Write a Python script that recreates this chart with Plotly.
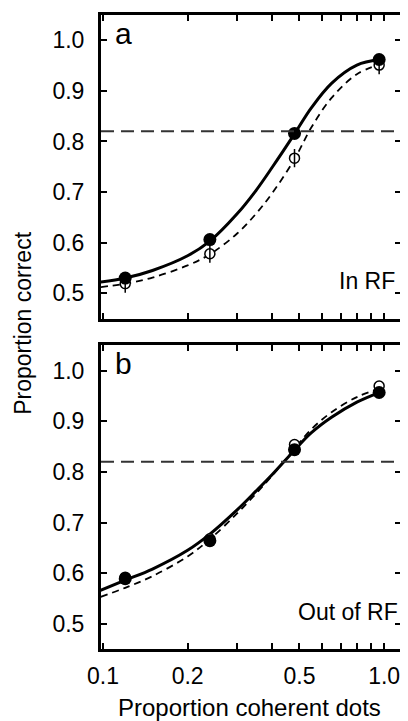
import plotly.graph_objects as go
from plotly.subplots import make_subplots

# ---- data ----
coherence = [0.12, 0.24, 0.48, 0.96]
in_rf_filled = [0.530, 0.606, 0.816, 0.962]
in_rf_open = [0.519, 0.578, 0.767, 0.951]
out_rf_filled = [0.589, 0.664, 0.844, 0.957]
out_rf_open = [0.592, 0.668, 0.854, 0.970]

curve_x = [0.098, 0.12, 0.15, 0.2, 0.24, 0.3, 0.35, 0.4, 0.48, 0.55, 0.65, 0.8, 0.96]
in_rf_solid = [0.522, 0.530, 0.545, 0.574, 0.603, 0.657, 0.703, 0.749, 0.815, 0.866, 0.915, 0.951, 0.962]
in_rf_dashed = [0.512, 0.519, 0.531, 0.555, 0.577, 0.618, 0.657, 0.698, 0.765, 0.827, 0.886, 0.933, 0.952]
out_rf_solid = [0.566, 0.586, 0.608, 0.645, 0.677, 0.725, 0.762, 0.795, 0.843, 0.877, 0.908, 0.938, 0.957]
out_rf_dashed = [0.553, 0.571, 0.594, 0.633, 0.667, 0.718, 0.757, 0.793, 0.846, 0.884, 0.918, 0.948, 0.964]

threshold = 0.82
y_ticks = [0.5, 0.6, 0.7, 0.8, 0.9, 1.0]
y_tick_labels = ["0.5", "0.6", "0.7", "0.8", "0.9", "1.0"]
x_ticks = [0.1, 0.2, 0.3, 0.4, 0.5, 0.6, 0.7, 0.8, 0.9, 1.0]
x_tick_labels = ["0.1", "0.2", "", "", "0.5", "", "", "", "", "1.0"]

FONT = "Liberation Sans, Arial, Helvetica, sans-serif"

fig = make_subplots(rows=2, cols=1, vertical_spacing=0.0425)

panels = [
    (1, in_rf_solid, in_rf_dashed, in_rf_filled, in_rf_open),
    (2, out_rf_solid, out_rf_dashed, out_rf_filled, out_rf_open),
]
for row, solid, dashed, filled, opened in panels:
    fig.add_trace(go.Scatter(x=curve_x, y=dashed, mode="lines", line_shape="spline",
                             line=dict(color="black", width=1.8, dash="7px,5px"),
                             showlegend=False, hoverinfo="skip"), row=row, col=1)
    fig.add_trace(go.Scatter(x=curve_x, y=solid, mode="lines", line_shape="spline",
                             line=dict(color="black", width=3),
                             showlegend=False, hoverinfo="skip"), row=row, col=1)
    fig.add_trace(go.Scatter(x=coherence, y=opened, mode="markers",
                             marker=dict(symbol="circle", size=10, color="white",
                                         line=dict(color="black", width=1.5)),
                             showlegend=False), row=row, col=1)
    if row == 1:
        fig.add_trace(go.Scatter(x=coherence, y=opened, mode="markers",
                                 marker=dict(symbol="line-ns-open", size=13, color="black",
                                             line=dict(color="black", width=1.5)),
                                 showlegend=False), row=row, col=1)
    fig.add_trace(go.Scatter(x=coherence, y=filled, mode="markers",
                             marker=dict(symbol="circle", size=13, color="black",
                                         line=dict(color="black", width=0)),
                             showlegend=False), row=row, col=1)
    fig.add_shape(type="line", xref=f"x{'' if row == 1 else row} domain", yref=f"y{'' if row == 1 else row}",
                  x0=0, x1=1, y0=threshold, y1=threshold,
                  line=dict(color="#333333", width=2, dash="13px,7px"))

axis_common = dict(showline=True, linewidth=3, linecolor="black", mirror="allticks",
                   ticks="inside", ticklen=6, tickwidth=2, tickcolor="black",
                   showgrid=False, zeroline=False,
                   tickfont=dict(family=FONT, size=23, color="black"))

for row in (1, 2):
    fig.update_xaxes(type="log", range=[-1.007, 0.06], tickvals=x_ticks, ticktext=x_tick_labels,
                     showticklabels=(row == 2), ticklabelstandoff=4, row=row, col=1, **axis_common)
    fig.update_yaxes(range=[0.45, 1.05], tickvals=y_ticks, ticktext=y_tick_labels,
                     ticklabelstandoff=9, row=row, col=1, **axis_common)

annotations = [
    dict(text="a", xref="x domain", yref="y domain", x=0.04, y=1.0, xanchor="left", yanchor="top",
         font=dict(family=FONT, size=30, color="black"), showarrow=False),
    dict(text="b", xref="x2 domain", yref="y2 domain", x=0.04, y=1.0, xanchor="left", yanchor="top",
         font=dict(family=FONT, size=30, color="black"), showarrow=False),
    dict(text="In RF", xref="x domain", yref="y domain", x=0.985, y=0.122, xanchor="right", yanchor="middle",
         font=dict(family=FONT, size=23, color="black"), showarrow=False),
    dict(text="Out of RF", xref="x2 domain", yref="y2 domain", x=0.995, y=0.122, xanchor="right", yanchor="middle",
         font=dict(family=FONT, size=23, color="black"), showarrow=False),
    dict(text="Proportion coherent dots", xref="paper", yref="paper", x=0.495, y=-0.093,
         xanchor="center", yanchor="middle", font=dict(family=FONT, size=24, color="black"), showarrow=False),
    dict(text="Proportion correct", xref="paper", yref="paper", x=-0.26, y=0.513, textangle=-90,
         xanchor="center", yanchor="middle", font=dict(family=FONT, size=23, color="black"), showarrow=False),
]
# the page body has an 8px margin, so the figure is 8px smaller and shifted accordingly
fig.update_layout(width=400, height=713, margin=dict(l=93, r=4, t=6, b=72),
                  plot_bgcolor="white", paper_bgcolor="white", annotations=annotations,
                  font=dict(family=FONT, color="black"))

fig.write_html("out.html")
